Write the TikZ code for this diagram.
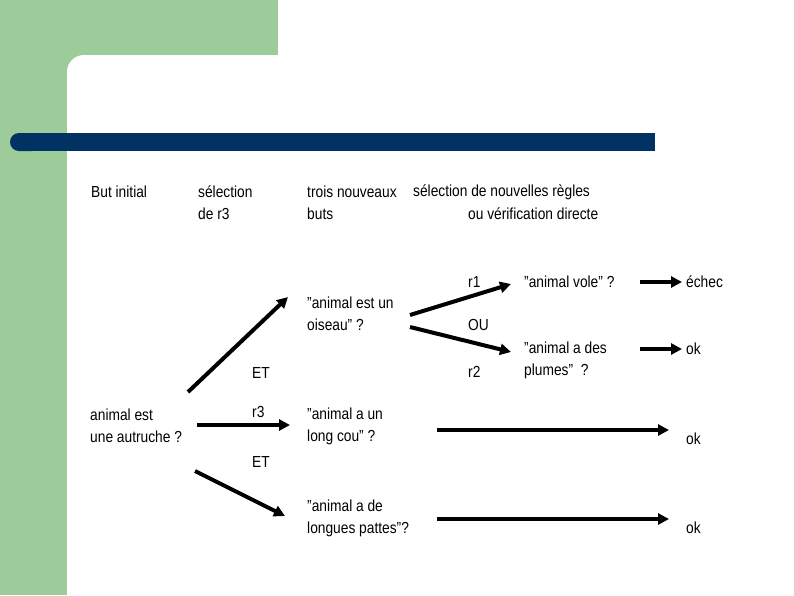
\documentclass[tikz,border=0pt]{standalone}
\usepackage{fontspec}
\setmainfont{Liberation Sans}[FakeStretch=0.86]
\usetikzlibrary{arrows.meta}
\definecolor{bggreen}{HTML}{9ECB9A}
\definecolor{barblue}{HTML}{003264}
\tikzset{
  txt/.style={font={\fontsize{16}{22}\selectfont}, inner sep=0pt, anchor=west, align=left},
  arr/.style={line width=4pt, -{Triangle[length=11pt,width=11pt]}}
}
\begin{document}
\begin{tikzpicture}[x=1pt,y=-1pt]
\useasboundingbox (0,0) rectangle (794,595);
\fill[white] (0,0) rectangle (794,595);
% green frame
\fill[bggreen] (0,0) rectangle (278,55);
\fill[bggreen] (0,0) rectangle (67,595);
\fill[bggreen] (67,55) rectangle (84,72);
\fill[white] (84,72) circle (17);
% blue bar
\fill[barblue, rounded corners=9pt] (10,133) rectangle (40,151);
\fill[barblue] (25,133) rectangle (655,151);
% headers
\node[txt] (h1) at (91,192) {But initial};
\node[txt] (h2) at (198,203) {sélection\\de r3};
\node[txt] (h3) at (307,203) {trois nouveaux\\buts};
\node[txt] (h4) at (413,192) {sélection de nouvelles règles};
\node[txt] (h5) at (468,214) {ou vérification directe};
% goals
\node[txt] (g0) at (90,426) {animal est\\une autruche ?};
\node[txt] (g1) at (307,314) {\char34 animal est un\\oiseau\char34\ ?};
\node[txt] (g2) at (307,426) {\char34 animal a un\\long cou\char34\ ?};
\node[txt] (g3) at (307,518) {\char34 animal a de\\longues pattes\char34 ?};
\node[txt] (g11) at (524,282) {\char34 animal vole\char34\ ?};
\node[txt] (g12) at (524,360) {\char34 animal a des\\plumes\char34~~?};
% labels
\node[txt] (et1) at (252,373) {ET};
\node[txt] (r3) at (252,412) {r3};
\node[txt] (et2) at (252,462) {ET};
\node[txt] (r1) at (468,282) {r1};
\node[txt] (ou) at (468,325) {OU};
\node[txt] (r2) at (468,372) {r2};
\node[txt] (res1) at (686,282) {échec};
\node[txt] (res2) at (686,349) {ok};
\node[txt] (res3) at (686,439) {ok};
\node[txt] (res4) at (686,528) {ok};
% arrow end points
\coordinate (a1s) at (188,392); \coordinate (a1e) at (288,297);
\coordinate (a2s) at (197,425); \coordinate (a2e) at (290,425);
\coordinate (a3s) at (195,471); \coordinate (a3e) at (285,516);
\coordinate (a4s) at (410,315); \coordinate (a4e) at (511,284);
\coordinate (a5s) at (410,327); \coordinate (a5e) at (511,352);
\coordinate (a6s) at (640,282); \coordinate (a6e) at (682,282);
\coordinate (a7s) at (640,349); \coordinate (a7e) at (682,349);
\coordinate (a8s) at (437,430); \coordinate (a8e) at (669,430);
\coordinate (a9s) at (437,519); \coordinate (a9e) at (669,519);
\draw[arr] (a1s) -- (a1e);
\draw[arr] (a2s) -- (a2e);
\draw[arr] (a3s) -- (a3e);
\draw[arr] (a4s) -- (a4e);
\draw[arr] (a5s) -- (a5e);
\draw[arr] (a6s) -- (a6e);
\draw[arr] (a7s) -- (a7e);
\draw[arr] (a8s) -- (a8e);
\draw[arr] (a9s) -- (a9e);
\end{tikzpicture}
\end{document}
